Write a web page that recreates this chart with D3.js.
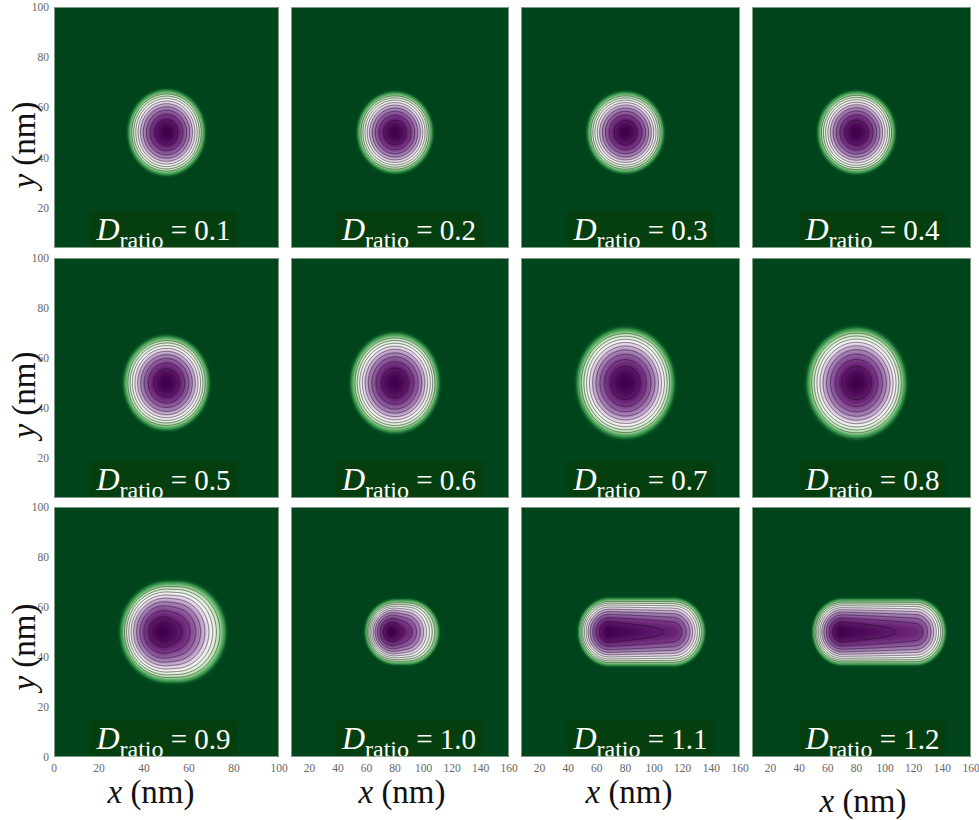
<!DOCTYPE html>
<html>
<head>
<meta charset="utf-8">
<script src="https://cdn.jsdelivr.net/npm/d3@7"></script>
<style>
  html, body { margin: 0; padding: 0; background: #ffffff; }
  svg { display: block; }
</style>
</head>
<body>
<svg id="chart" width="979" height="820"></svg>
<script>
// ---- data -------------------------------------------------------------
const dRatios = ["0.1", "0.2", "0.3", "0.4", "0.5", "0.6", "0.7", "0.8", "0.9", "1.0", "1.1", "1.2"];

// density blob of each panel (nm): ridge from blobX1 to blobX2 at height blobY,
// half-widths blobA (x) / blobB (y), strength tilting down to the right by blobTilt
const blobX1   = [50, 80, 80, 80, 50, 80, 80, 80, 50.9, 80.9, 69.0, 70.2];
const blobX2   = [50, 80, 80, 80, 50, 80, 80, 80, 54.9, 88.9, 113.4, 121.4];
const blobY    = [50, 50, 50, 50, 50, 50, 50, 50, 50, 50, 50, 50];
const blobA    = [16.3, 25.2, 25.5, 25.8, 18.1, 29.6, 32.5, 33.0, 20.4, 21.0, 21.0, 20.0];
const blobB    = [16.2, 15.4, 15.4, 15.6, 17.9, 19.0, 20.9, 21.0, 19.2, 12.4, 12.9, 12.6];
const blobTilt = [0, 0, 0, 0, 0, 0, 0, 0, 0.3, 0.4, 0.12, 0.13];

const contourLevels = [0.1, 0.2, 0.3, 0.4, 0.5, 0.6, 0.7, 0.8, 0.9];

// axis extents and tick labels
const xDomainNarrow = [0, 100];
const xDomainWide   = [7, 160];
const yDomainTop    = [4, 100];
const yDomainBottom = [0, 100];
const xTicksNarrow  = [0, 20, 40, 60, 80, 100];
const xTicksWide    = [20, 40, 60, 80, 100, 120, 140, 160];
const yTicksTop     = [20, 40, 60, 80, 100];
const yTicksBottom  = [0, 20, 40, 60, 80, 100];

// ---- layout -----------------------------------------------------------
const colLeft   = [54, 291, 521, 752];
const colRight  = [279, 509, 740, 971];
const rowTop    = [7, 258, 507];
const rowBottom = [248, 498, 757];
const labelShift = [-3, 9, 10, 11];

const svg = d3.select("#chart");
const defs = svg.append("defs");

// value -> position on the diverging map (0 = green end, 1 = purple end)
const tScale = d3.scaleLinear()
  .domain([0, 0.1, 0.35, 0.6, 1])
  .range([0.18, 0.32, 0.5, 0.75, 1])
  .clamp(true);
const colorOf = v => {
  const t = v > 0 ? tScale(v) : 0.18 * Math.exp(-(v / 0.13) * (v / 0.13));
  return d3.rgb(d3.interpolatePRGn(1 - t));
};

// capsule-shaped parabolic density with a linear tilt, scaled to a peak of 1
function makeField(i) {
  const x1 = blobX1[i], x2 = blobX2[i], a = blobA[i], b = blobB[i], cy = blobY[i];
  const xc = (x1 + x2) / 2, H = (x2 - x1) / 2 + a, k = blobTilt[i];
  const raw = (x, y) => {
    const dx = x < x1 ? x1 - x : (x > x2 ? x - x2 : 0);
    const K = 1 - (dx / a) ** 2 - ((y - cy) / b) ** 2;
    return K > 0 ? K * (1 - k * (x - xc) / H) : K;
  };
  let peak = 0;
  for (let x = x1 - a; x <= x2 + a; x += 0.02) peak = Math.max(peak, raw(x, cy));
  return (x, y) => {
    const v = raw(x, y);
    return v > 0 ? v / peak : v;
  };
}

const serif = "'Liberation Serif', 'DejaVu Serif', serif";

dRatios.forEach((label, i) => {
  const row = Math.floor(i / 4), col = i % 4;
  const x0 = colLeft[col], x1 = colRight[col];
  const y0 = rowTop[row], y1 = rowBottom[row];
  const w = x1 - x0, h = y1 - y0;
  const field = makeField(i);

  const xs = d3.scaleLinear().domain(col === 0 ? xDomainNarrow : xDomainWide).range([x0, x1]);
  const ys = d3.scaleLinear().domain(row === 2 ? yDomainBottom : yDomainTop).range([y1, y0]);

  // raster of the density field
  const canvas = document.createElement("canvas");
  canvas.width = w; canvas.height = h;
  const ctx = canvas.getContext("2d");
  const img = ctx.createImageData(w, h);
  for (let py = 0; py < h; py++) {
    const dy = ys.invert(y0 + py + 0.5);
    for (let px = 0; px < w; px++) {
      const c = colorOf(field(xs.invert(x0 + px + 0.5), dy));
      const k = (py * w + px) * 4;
      img.data[k] = c.r; img.data[k + 1] = c.g; img.data[k + 2] = c.b; img.data[k + 3] = 255;
    }
  }
  ctx.putImageData(img, 0, 0);

  const clipId = "clip" + i;
  defs.append("clipPath").attr("id", clipId)
    .append("rect").attr("x", x0).attr("y", y0).attr("width", w).attr("height", h);

  const g = svg.append("g").attr("clip-path", `url(#${clipId})`);
  g.append("image")
    .attr("x", x0).attr("y", y0).attr("width", w).attr("height", h)
    .attr("preserveAspectRatio", "none")
    .attr("href", canvas.toDataURL());

  // contour lines on a fine grid in data space
  const xd = xs.domain(), yd = ys.domain();
  const nx = 360, ny = 240;
  const gx = (xd[1] - xd[0]) / nx, gy = (yd[1] - yd[0]) / ny;
  const grid = new Float64Array(nx * ny);
  for (let j = 0; j < ny; j++) {
    const dy = yd[0] + (j + 0.5) * gy;
    for (let k = 0; k < nx; k++) grid[j * nx + k] = field(xd[0] + (k + 0.5) * gx, dy);
  }
  const contours = d3.contours().size([nx, ny]).thresholds(contourLevels)(grid);
  const proj = d3.geoTransform({
    point(px, py) { this.stream.point(xs(xd[0] + px * gx), ys(yd[0] + py * gy)); }
  });
  g.selectAll("path.iso").data(contours).join("path")
    .attr("class", "iso")
    .attr("d", d3.geoPath(proj))
    .attr("fill", "none")
    .attr("stroke", "#111")
    .attr("stroke-opacity", 0.72)
    .attr("stroke-width", 0.7);

  // D_ratio label box
  const bw = 147, bh = 37;
  const bc = (x0 + x1) / 2 + labelShift[col];
  g.append("rect")
    .attr("x", bc - bw / 2).attr("y", y1 - bh).attr("width", bw).attr("height", bh)
    .attr("fill", "#053f0f");
  const t = g.append("text")
    .attr("x", bc).attr("y", y1 - 8)
    .attr("text-anchor", "middle")
    .attr("fill", "#ffffff")
    .attr("font-family", serif)
    .attr("font-size", 29);
  t.append("tspan").attr("font-style", "italic").attr("font-size", 32).text("D");
  t.append("tspan").attr("font-size", 24).attr("dy", 8).text("ratio");
  t.append("tspan").attr("dy", -8).text(" = " + label);

  // frame
  svg.append("rect")
    .attr("x", x0 + 0.5).attr("y", y0 + 0.5).attr("width", w - 1).attr("height", h - 1)
    .attr("fill", "none").attr("stroke", "#9fb09f").attr("stroke-width", 0.8);

  // tick labels
  if (col === 0) {
    svg.append("g").selectAll("text").data(row === 2 ? yTicksBottom : yTicksTop).join("text")
      .attr("x", 49).attr("y", d => ys(d))
      .attr("text-anchor", "end").attr("dominant-baseline", "central")
      .attr("font-family", serif).attr("font-size", 11.5).attr("fill", "#666")
      .text(d => d);
  }
  if (row === 2) {
    svg.append("g").selectAll("text").data(col === 0 ? xTicksNarrow : xTicksWide).join("text")
      .attr("x", d => xs(d)).attr("y", 768)
      .attr("text-anchor", "middle").attr("dominant-baseline", "central")
      .attr("font-family", serif).attr("font-size", 11.5).attr("fill", "#666")
      .text(d => d);
  }
});

// axis titles
const yTitleCenters = [145, 395, 647];
yTitleCenters.forEach(cy => {
  const t = svg.append("text")
    .attr("transform", `translate(24,${cy}) rotate(-90)`)
    .attr("text-anchor", "middle").attr("dominant-baseline", "central")
    .attr("font-family", serif).attr("font-size", 33).attr("fill", "#111");
  t.append("tspan").attr("font-style", "italic").text("y");
  t.append("tspan").text(" (nm)");
});

const xTitlePos = [[151, 792], [402, 792], [629, 792], [863, 801]];
xTitlePos.forEach(([cx, cy]) => {
  const t = svg.append("text")
    .attr("x", cx).attr("y", cy)
    .attr("text-anchor", "middle").attr("dominant-baseline", "central")
    .attr("font-family", serif).attr("font-size", 33).attr("fill", "#111");
  t.append("tspan").attr("font-style", "italic").text("x");
  t.append("tspan").text(" (nm)");
});
</script>
</body>
</html>
